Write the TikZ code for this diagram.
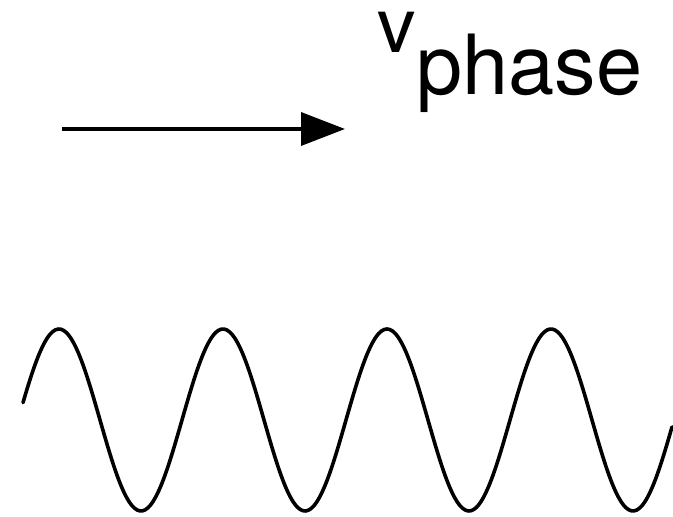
\documentclass[tikz,border=0pt]{standalone}
\usepackage{fontspec}
\setmainfont{TeX Gyre Heros}
\usetikzlibrary{arrows.meta}
\begin{document}
\begin{tikzpicture}[x=1pt, y=1pt, line width=3.6pt,
  wave/.style={line join=round, line cap=round},
  velarrow/.style={-{Triangle[length=44pt, width=33pt]}}]
  \useasboundingbox (0,0) rectangle (673,517);
  \node[anchor=base west, inner sep=0pt] (vphase) at (376,464)
    {\smash{\fontsize{77pt}{77pt}\selectfont v}\raisebox{-42pt}{\fontsize{83pt}{83pt}\selectfont phase}};
  \coordinate (start) at (62,388);
  \coordinate (tip) at (345,388);
  \draw[velarrow] (start) -- (tip);
  \draw[wave, smooth, samples=240, domain=23:672]
    plot (\x, {97 + 91*cos((\x-59)/164*360)});
\end{tikzpicture}
\end{document}
